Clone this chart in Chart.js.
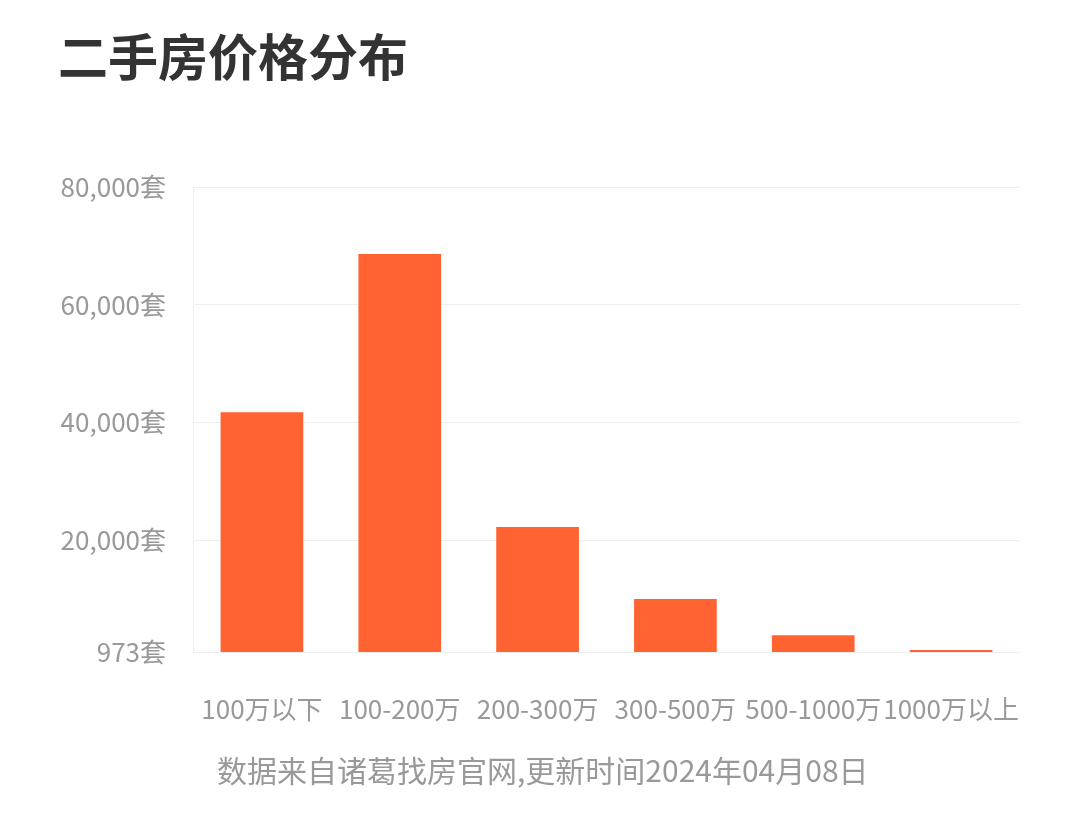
<!DOCTYPE html>
<html>
<head>
<meta charset="utf-8">
<script src="https://cdn.jsdelivr.net/npm/chart.js@4/dist/chart.umd.min.js"></script>
<style>
    body { margin: 0; background: #fff; font-family: "Noto Sans CJK SC", "Noto Sans", sans-serif; }
    #wrap { position: relative; width: 1080px; height: 820px; }
    #title { position: absolute; left: 58px; top: 24px; font-size: 50px; font-weight: bold; color: #333; line-height: 1.2; }
    #note { position: absolute; left: 217px; top: 748px; font-size: 30px; color: #999; line-height: 1.4; }
    canvas { position: absolute; left: 0; top: 0; }
</style>
</head>
<body>
<div id="wrap">
    <canvas id="price-chart" width="1080" height="820"></canvas>
    <div id="title">二手房价格分布</div>
    <div id="note">数据来自诸葛找房官网,更新时间2024年04月08日</div>
</div>
<script>
const labels = ["100万以下", "100-200万", "200-300万", "300-500万", "500-1000万", "1000万以上"];
const counts = [41700, 68600, 22200, 10000, 3800, 1300];
const tickValues = [973, 20000, 40000, 60000, 80000];

const ctx = document.getElementById("price-chart").getContext("2d");

const myChart = new Chart(ctx, {
    type: "bar",
    data: {
        labels,
        datasets: [
            {
                data: counts,
                backgroundColor: "#ff6331",
                barPercentage: 0.6,
                categoryPercentage: 1,
                minBarLength: 2
            }
        ]
    },
    options: {
        responsive: false,
        animation: false,
        layout: { padding: { top: 187, right: 60, left: 0, bottom: 0 } },
        plugins: {
            legend: { display: false },
            tooltip: { enabled: false }
        },
        scales: {
            x: {
                grid: { display: false },
                border: { color: "#eeeeee" },
                ticks: {
                    color: "#999",
                    font: { size: 26, family: "Noto Sans CJK SC" },
                    padding: 34,
                    maxRotation: 0,
                    autoSkip: false
                },
                afterFit: scale => { scale.height = 168; }
            },
            y: {
                min: 973,
                max: 80000,
                grid: { color: "#eeeeee", drawTicks: false },
                border: { color: "#eeeeee" },
                ticks: {
                    color: "#999",
                    font: { size: 26, family: "Noto Sans CJK SC" },
                    padding: 27,
                    callback: v => v.toLocaleString("en-US") + "套"
                },
                afterBuildTicks: scale => {
                    scale.ticks = tickValues.map(v => ({ value: v }));
                },
                afterFit: scale => { scale.width = 193; }
            }
        }
    }
});
</script>
</body>
</html>
